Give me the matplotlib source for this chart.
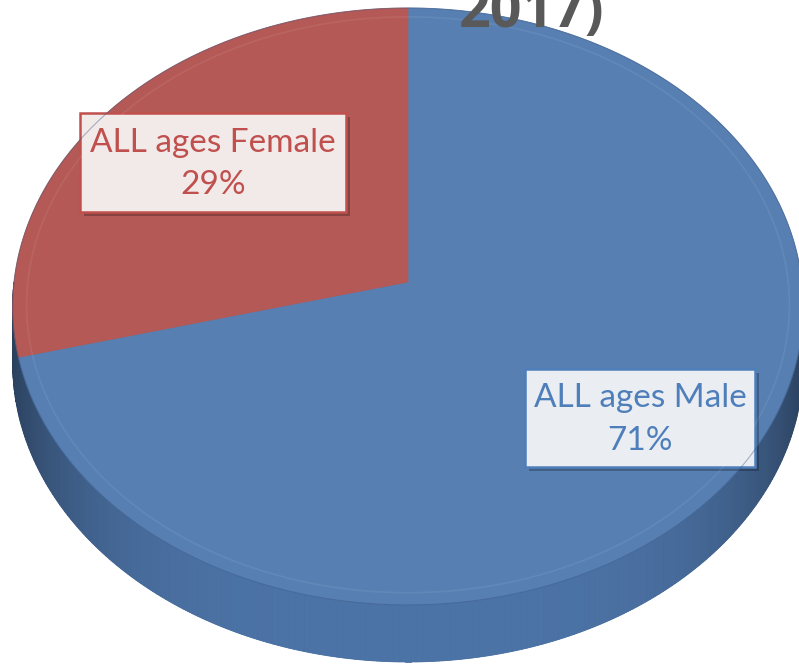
import numpy as np
import matplotlib
matplotlib.use("Agg")
import matplotlib.pyplot as plt
from matplotlib.patches import Polygon, Rectangle
from matplotlib.colors import to_rgb

# data
labels = ["ALL ages Male", "ALL ages Female"]
shares = [0.71, 0.29]
face_colors = ["#577fb2", "#b45956"]
side_colors = ["#4c73a6", "#4c73a6"]
text_colors = ["#4f7fbb", "#c0504d"]
box_fills = ["#eaeef3", "#f2e9e9"]
title_tail = "2017)"

W, H = 799, 667
fig = plt.figure(figsize=(W / 100, H / 100), dpi=100)
ax = fig.add_axes([0, 0, 1, 1])
ax.set_xlim(0, W)
ax.set_ylim(H, 0)
ax.axis("off")

# perspective projection of a unit disc onto the page
cx, cy0 = 408, 282
e, A, B = 0.082, 394, 296.5
depth = 57


def proj(u, v):
    w = 1 + e * v
    return cx + A * u / w, cy0 - B * v / w


# angles: start at 12 o'clock, go clockwise
bounds = 90 - 360 * np.concatenate([[0], np.cumsum(shares)])

# bottom outline (shifted rim), then side strips with shading
t = np.linspace(0, 2 * np.pi, 400)
bx, by = proj(np.cos(t), np.sin(t))
ax.add_patch(Polygon(np.column_stack([bx, by + depth]), closed=True,
                     fc="#3f6290", ec="none"))

ths = np.linspace(np.pi, 2 * np.pi, 240)
for t0, t1 in zip(ths[:-1], ths[1:]):
    deg = np.degrees((t0 + t1) / 2) % 360
    idx = 0
    for i in range(len(shares)):
        lo, hi = bounds[i + 1] % 360, bounds[i] % 360
        if (lo <= deg < hi) if lo < hi else (deg >= lo or deg < hi):
            idx = i
    x0, y0 = proj(np.cos(t0), np.sin(t0))
    x1, y1 = proj(np.cos(t1), np.sin(t1))
    shade = abs(np.cos((t0 + t1) / 2)) ** 4
    base = np.array(to_rgb(side_colors[idx]))
    col = base * (1 - 0.45 * shade)
    ax.add_patch(Polygon([[x0, y0], [x1, y1], [x1, y1 + depth], [x0, y0 + depth]],
                         closed=True, fc=col, ec=col, lw=0.6))

# top face wedges
for i in range(len(shares)):
    a = np.radians(np.linspace(bounds[i], bounds[i + 1], 300))
    px, py = proj(np.cos(a), np.sin(a))
    pts = np.vstack([[cx, cy0], np.column_stack([px, py])])
    ax.add_patch(Polygon(pts, closed=True, fc=face_colors[i],
                         ec=face_colors[i], lw=0.5))

# subtle bevel ring
rx, ry = proj(0.965 * np.cos(t), 0.965 * np.sin(t))
ax.plot(rx, ry, color="white", alpha=0.07, lw=1.2)
ox, oy = proj(np.cos(t), np.sin(t))
ax.plot(ox, oy, color="#34507a", alpha=0.4, lw=0.8)

# data labels
boxes = [(525, 369, 230, 98), (80, 113, 266, 99)]
for i, (x, y, w, h) in enumerate(boxes):
    ax.add_patch(Rectangle((x + 4, y + 4), w, h, fc="black", alpha=0.25, ec="none"))
    ax.add_patch(Rectangle((x, y), w, h, fc=box_fills[i], ec=text_colors[i], lw=1.8))
    ax.text(x + w / 2, y + h * 0.30, labels[i], ha="center", va="center",
            fontsize=24, color=text_colors[i], family="Lato")
    ax.text(x + w / 2, y + h * 0.73, f"{shares[i] * 100:.0f}%", ha="center",
            va="center", fontsize=24, color=text_colors[i], family="Lato")

# title (only the tail of it is inside the frame)
ax.text(532, 27, title_tail, ha="center", va="baseline", fontsize=40,
        fontweight="bold", color="#595959", family="Open Sans")

fig.savefig("out.png", dpi=100)
